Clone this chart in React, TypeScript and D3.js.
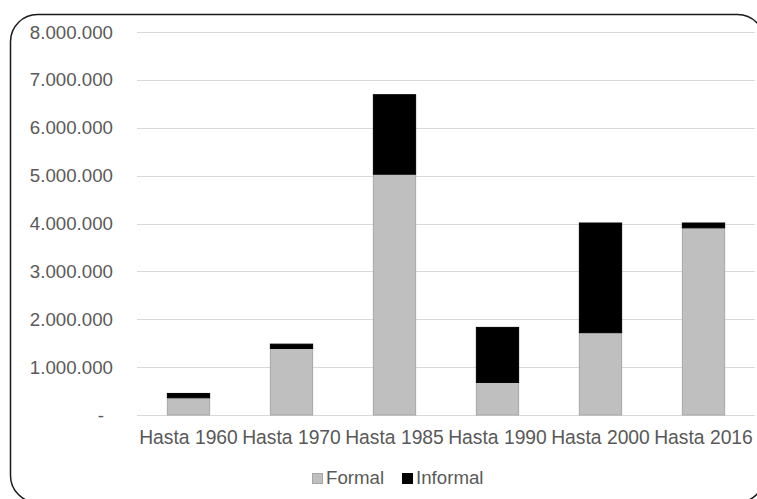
import React from "react";
import * as d3 from "d3";

const categories = ["Hasta 1960", "Hasta 1970", "Hasta 1985", "Hasta 1990", "Hasta 2000", "Hasta 2016"];
const formal = [360000, 1390000, 5030000, 680000, 1720000, 3910000];
const informal = [90000, 90000, 1660000, 1150000, 2290000, 100000];
const seriesNames = ["Formal", "Informal"];
const seriesColors = ["#bfbfbf", "#000000"];
const seriesStrokes = ["#a6a6a6", "#000000"];
const yTicks = [0, 1000000, 2000000, 3000000, 4000000, 5000000, 6000000, 7000000, 8000000];

const W = 757;
const H = 499;
const left = 137;
const right = 755;
const top = 32;
const bottom = 415;
const FONT = "'Liberation Sans', Arial, sans-serif";
const TEXT = "#595959";

const locale = d3.formatLocale({ thousands: ".", grouping: [3], decimal: ",", currency: ["", ""] });
const fmt = locale.format(",");

export default function App() {
  const x = d3.scaleBand<string>().domain(categories).range([left, right]).paddingInner(0.58).paddingOuter(0.29);
  const y = d3.scaleLinear().domain([0, 8000000]).range([bottom, top]);

  const table = categories.map((c, i) => ({ cat: c, Formal: formal[i], Informal: informal[i] }));
  const stacked = d3.stack<any>().keys(seriesNames)(table);

  return (
    <svg width={W} height={H} style={{ position: "absolute", left: 0, top: 0, background: "#fff" }} fontFamily={FONT}>
      <rect x={0} y={0} width={W} height={H} fill="#fff" />
      <rect x={10.5} y={14.5} width={754} height={488} rx={27} ry={27} fill="none" stroke="#1a1a1a" strokeWidth={1.5} />
      {yTicks.map((t) => (
        <g key={t}>
          <line x1={left} x2={right} y1={Math.round(y(t)) + 0.5} y2={Math.round(y(t)) + 0.5} stroke="#d9d9d9" strokeWidth={1.2} />
          <text
            x={t === 0 ? 104 : 113}
            y={y(t)}
            dy="0.35em"
            textAnchor="end"
            fontSize={18.7}
            fill={TEXT}
          >
            {t === 0 ? "-" : fmt(t)}
          </text>
        </g>
      ))}
      {stacked.map((s, si) => (
        <g key={s.key}>
          {s.map((d: any, i: number) => (
            <rect
              key={i}
              x={x(categories[i])! + 0.5}
              y={y(d[1])}
              width={x.bandwidth() - 1}
              height={y(d[0]) - y(d[1])}
              fill={seriesColors[si]}
              stroke={seriesStrokes[si]}
              strokeWidth={1}
            />
          ))}
        </g>
      ))}
      {categories.map((c) => (
        <text key={c} x={x(c)! + x.bandwidth() / 2} y={444} textAnchor="middle" fontSize={19.3} fill={TEXT}>
          {c}
        </text>
      ))}
      {seriesNames.map((n, i) => {
        const lx = i === 0 ? 312 : 402;
        return (
          <g key={n}>
            <rect x={lx + 0.5} y={473.5} width={10} height={10} fill={seriesColors[i]} stroke={seriesStrokes[i]} strokeWidth={1} />
            <text x={lx + 14} y={484} fontSize={18.7} fill={TEXT}>
              {n}
            </text>
          </g>
        );
      })}
    </svg>
  );
}
